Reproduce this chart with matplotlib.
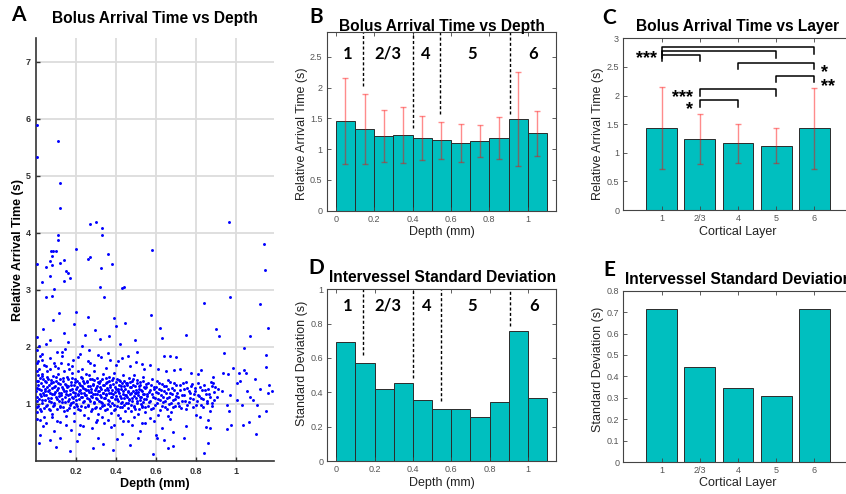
import numpy as np
import matplotlib
matplotlib.use("Agg")
import matplotlib.pyplot as plt

plt.rcParams["font.family"] = ["Liberation Sans", "DejaVu Sans"]

# ---- data ----
# panel A: single vessels, (depth mm, relative arrival time s)
outliers = [
    (0.003, 5.89), (0.11, 5.62), (0.007, 5.34), (0.12, 4.88), (0.12, 4.43), (0.27, 4.16),
    (0.30, 4.20), (0.33, 4.09), (0.33, 3.97), (0.11, 3.96), (0.11, 3.88), (0.20, 3.71),
    (0.58, 3.70), (0.075, 3.68), (0.085, 3.69), (0.10, 3.68), (0.08, 3.59), (0.003, 3.46),
    (0.07, 3.50), (0.05, 3.40), (0.08, 3.43), (0.12, 3.48), (0.14, 3.52), (0.26, 3.55),
    (0.27, 3.58), (0.36, 3.63), (0.38, 3.46), (0.325, 3.38), (0.15, 3.33), (0.16, 3.30),
    (0.17, 3.21), (0.07, 3.24), (0.14, 3.15), (0.03, 3.14), (0.32, 3.06), (0.43, 3.04),
    (0.44, 3.05), (0.09, 3.02), (0.08, 2.90), (0.05, 2.87), (0.34, 2.87), (0.965, 4.19),
    (1.14, 3.81), (1.145, 3.35), (0.97, 2.88), (0.84, 2.77), (1.12, 2.75), (0.575, 2.56),
    (0.62, 2.33), (0.90, 2.32), (1.16, 2.34), (0.75, 2.21), (0.915, 2.19), (1.07, 2.19),
    (0.63, 2.16), (1.04, 1.98), (0.94, 1.89), (1.15, 1.86), (0.70, 1.83), (0.67, 1.85),
    (1.15, 1.65), (0.983, 1.64), (1.015, 1.54), (1.042, 1.60), (1.048, 1.55), (0.937, 1.55),
    (0.958, 1.53), (1.003, 1.37), (1.02, 1.40), (1.097, 1.43), (1.165, 1.33), (1.18, 1.23),
    (1.12, 1.27), (1.16, 1.20), (1.053, 1.23), (1.07, 1.13), (1.087, 1.07), (1.03, 0.98),
    (1.107, 0.98), (1.152, 0.88), (1.115, 0.79), (1.065, 0.68), (1.037, 0.64), (0.965, 0.87),
    (0.975, 0.63), (0.957, 0.57), (1.10, 0.47), (0.86, 0.31), (0.84, 0.14), (0.687, 0.27),
    (0.66, 0.22), (0.587, 0.12), (0.64, 0.37), (0.607, 0.40), (0.97, 1.16), (1.003, 1.07),
    (0.912, 1.27), (0.928, 1.22), (0.887, 1.36), (0.903, 1.13), (0.878, 1.01), (0.87, 0.87),
    (0.82, 0.78), (0.848, 0.60), (0.953, 0.98),
]
cloud = [
    (0.004, 1.95), (0.004, 1.72), (0.005, 1.40), (0.004, 1.12), (0.005, 0.86), (0.003, 2.18),
    (0.006, 1.58), (0.004, 1.28), (0.005, 1.05), (0.004, 0.74), (0.012, 1.33), (0.015, 1.61),
    (0.018, 1.18), (0.011, 0.97), (0.022, 1.45), (0.025, 1.24), (0.019, 1.84), (0.028, 1.07),
    (0.031, 1.52), (0.027, 0.88), (0.035, 1.31), (0.038, 1.69), (0.041, 1.15), (0.036, 0.62),
    (0.044, 1.40), (0.047, 1.22), (0.050, 0.96), (0.053, 1.58), (0.056, 1.29), (0.049, 2.05),
    (0.014, 2.02), (0.021, 0.45), (0.033, 2.31), (0.058, 1.11), (0.009, 1.51), (0.042, 0.78),
    (0.061, 1.43), (0.064, 0.92), (0.016, 0.31), (0.030, 1.77),
    (0.067, 1.25), (0.070, 1.61), (0.073, 1.04), (0.076, 1.37), (0.079, 0.83), (0.082, 1.18),
    (0.085, 1.49), (0.088, 1.30), (0.091, 0.99), (0.094, 1.66), (0.097, 1.21), (0.100, 1.41),
    (0.103, 1.09), (0.106, 0.71), (0.109, 1.28), (0.112, 1.53), (0.115, 1.14), (0.118, 0.95),
    (0.121, 1.35), (0.124, 1.72), (0.127, 1.19), (0.130, 1.03), (0.133, 1.45), (0.136, 1.26),
    (0.139, 0.88), (0.142, 1.58), (0.145, 1.12), (0.148, 1.33), (0.072, 2.12), (0.090, 0.52),
    (0.105, 1.92), (0.120, 0.41), (0.138, 2.25), (0.083, 2.48), (0.150, 0.64), (0.098, 0.25),
    (0.113, 2.60), (0.128, 1.85), (0.068, 0.37), (0.146, 1.97),
    (0.152, 1.22), (0.155, 1.47), (0.158, 1.05), (0.161, 1.31), (0.164, 0.93), (0.167, 1.62),
    (0.170, 1.17), (0.173, 1.39), (0.176, 1.01), (0.179, 1.26), (0.182, 1.54), (0.185, 1.10),
    (0.188, 0.84), (0.191, 1.34), (0.194, 1.20), (0.197, 1.44), (0.200, 1.07), (0.203, 1.29),
    (0.206, 0.97), (0.209, 1.58), (0.212, 1.15), (0.215, 1.36), (0.218, 1.24), (0.221, 0.90),
    (0.224, 1.48), (0.227, 1.12), (0.230, 1.32), (0.233, 1.03), (0.236, 1.41), (0.239, 1.19),
    (0.242, 0.80), (0.245, 1.27), (0.248, 1.52), (0.160, 2.08), (0.175, 0.55), (0.190, 2.40),
    (0.205, 0.35), (0.220, 1.88), (0.235, 0.62), (0.247, 2.21), (0.168, 0.18), (0.183, 1.78),
    (0.198, 2.62), (0.214, 0.47), (0.228, 2.02),
    (0.252, 1.16), (0.255, 1.38), (0.258, 0.99), (0.261, 1.25), (0.264, 1.50), (0.267, 1.08),
    (0.270, 1.31), (0.273, 0.87), (0.276, 1.21), (0.279, 1.44), (0.282, 1.13), (0.285, 1.34),
    (0.288, 1.02), (0.291, 1.57), (0.294, 1.18), (0.297, 0.93), (0.300, 1.28), (0.303, 1.46),
    (0.306, 1.09), (0.309, 1.23), (0.312, 0.82), (0.315, 1.36), (0.318, 1.15), (0.321, 1.41),
    (0.324, 1.04), (0.327, 1.27), (0.330, 0.96), (0.333, 1.52), (0.336, 1.20), (0.339, 1.11),
    (0.342, 1.33), (0.345, 0.89), (0.348, 1.45), (0.265, 1.95), (0.280, 0.58), (0.295, 2.30),
    (0.310, 0.41), (0.325, 1.82), (0.340, 0.67), (0.258, 2.52), (0.287, 0.22), (0.318, 2.14),
    (0.333, 0.30), (0.272, 1.72), (0.305, 0.72),
    (0.352, 1.17), (0.355, 1.39), (0.358, 1.00), (0.361, 1.24), (0.364, 1.48), (0.367, 1.06),
    (0.370, 1.30), (0.373, 0.85), (0.376, 1.19), (0.379, 1.42), (0.382, 1.12), (0.385, 1.35),
    (0.388, 0.98), (0.391, 1.55), (0.394, 1.21), (0.397, 0.91), (0.400, 1.27), (0.403, 1.44),
    (0.406, 1.08), (0.409, 1.22), (0.412, 0.80), (0.415, 1.33), (0.418, 1.14), (0.421, 1.40),
    (0.424, 1.02), (0.427, 1.26), (0.430, 0.94), (0.433, 1.50), (0.436, 1.18), (0.439, 1.10),
    (0.442, 1.31), (0.445, 0.87), (0.448, 1.37), (0.360, 1.90), (0.375, 0.60), (0.390, 2.50),
    (0.405, 0.38), (0.420, 2.05), (0.435, 0.70), (0.398, 2.36), (0.383, 0.20), (0.412, 1.75),
    (0.428, 0.48), (0.446, 2.42), (0.366, 2.20),
    (0.452, 1.16), (0.455, 1.36), (0.458, 1.01), (0.461, 1.23), (0.464, 1.45), (0.467, 1.07),
    (0.470, 1.29), (0.473, 0.88), (0.476, 1.19), (0.479, 1.40), (0.482, 1.11), (0.485, 1.33),
    (0.488, 0.97), (0.491, 1.51), (0.494, 1.20), (0.497, 0.92), (0.500, 1.25), (0.503, 1.42),
    (0.506, 1.05), (0.509, 1.21), (0.512, 0.83), (0.515, 1.31), (0.518, 1.13), (0.521, 1.38),
    (0.524, 1.00), (0.527, 1.24), (0.530, 0.95), (0.533, 1.47), (0.536, 1.17), (0.539, 1.09),
    (0.542, 1.29), (0.545, 0.86), (0.548, 1.35), (0.460, 1.85), (0.478, 0.63), (0.495, 2.12),
    (0.512, 0.40), (0.530, 1.70), (0.547, 0.66), (0.470, 0.28), (0.505, 1.92), (0.522, 0.52),
    (0.553, 1.18), (0.558, 1.37), (0.563, 1.03), (0.568, 1.25), (0.573, 0.92), (0.578, 1.44),
    (0.583, 1.12), (0.588, 1.30), (0.593, 0.99), (0.598, 1.21), (0.603, 1.40), (0.608, 1.08),
    (0.613, 1.27), (0.618, 0.89), (0.623, 1.16), (0.628, 1.35), (0.633, 1.04), (0.638, 1.22),
    (0.643, 0.95), (0.648, 1.31), (0.653, 1.11), (0.658, 1.42), (0.663, 1.00), (0.668, 1.19),
    (0.673, 0.86), (0.678, 1.28), (0.683, 1.07), (0.688, 1.36), (0.693, 0.97), (0.698, 1.14),
    (0.570, 1.68), (0.590, 0.70), (0.610, 1.62), (0.630, 0.58), (0.650, 1.58), (0.672, 0.74),
    (0.692, 1.60), (0.600, 0.45), (0.640, 1.85), (0.685, 0.50),
    (0.705, 1.20), (0.712, 1.02), (0.718, 1.33), (0.725, 0.93), (0.731, 1.15), (0.738, 1.27),
    (0.744, 1.06), (0.751, 1.39), (0.757, 0.98), (0.764, 1.22), (0.770, 1.10), (0.777, 1.31),
    (0.783, 0.95), (0.790, 1.18), (0.796, 1.28), (0.803, 1.05), (0.810, 1.36), (0.816, 1.14),
    (0.823, 0.99), (0.829, 1.24), (0.836, 1.08), (0.842, 1.33), (0.849, 1.17), (0.855, 1.01),
    (0.862, 1.27), (0.868, 1.12), (0.875, 1.38), (0.881, 0.96), (0.888, 1.21), (0.894, 1.30),
    (0.722, 1.62), (0.748, 0.62), (0.773, 1.55), (0.800, 0.80), (0.826, 1.60), (0.858, 0.72),
    (0.884, 1.48), (0.740, 0.40), (0.812, 1.52), (0.870, 0.58),
]
core = [
    (0.002, 1.22), (0.006, 0.95), (0.010, 1.41), (0.013, 1.08), (0.017, 1.27), (0.020, 0.91),
    (0.024, 1.36), (0.026, 1.14), (0.029, 1.49), (0.032, 1.01), (0.034, 1.19), (0.037, 1.44),
    (0.040, 0.93), (0.043, 1.26), (0.045, 1.07), (0.048, 1.38), (0.051, 1.16), (0.054, 0.98),
    (0.057, 1.47), (0.060, 1.23), (0.063, 1.05), (0.066, 1.33), (0.069, 0.89), (0.071, 1.19),
    (0.074, 1.42), (0.077, 1.11), (0.080, 1.28), (0.084, 0.96), (0.087, 1.39), (0.089, 1.17),
    (0.092, 1.02), (0.095, 1.31), (0.099, 1.47), (0.101, 1.13), (0.104, 0.92), (0.107, 1.24),
    (0.110, 1.37), (0.114, 1.06), (0.116, 1.20), (0.119, 1.43), (0.122, 0.97), (0.125, 1.15),
    (0.129, 1.30), (0.131, 1.09), (0.134, 1.40), (0.137, 0.94), (0.140, 1.22), (0.143, 1.35),
    (0.147, 1.04), (0.149, 1.18), (0.153, 1.29), (0.156, 0.90), (0.159, 1.16), (0.162, 1.43),
    (0.165, 1.08), (0.169, 1.25), (0.172, 0.99), (0.174, 1.34), (0.178, 1.12), (0.181, 1.46),
    (0.184, 1.03), (0.187, 1.21), (0.190, 0.95), (0.193, 1.38), (0.196, 1.14), (0.199, 1.27),
    (0.202, 1.00), (0.205, 1.41), (0.208, 1.17), (0.211, 0.92), (0.214, 1.23), (0.217, 1.09),
    (0.220, 1.33), (0.223, 1.19), (0.226, 0.96), (0.229, 1.45), (0.232, 1.13), (0.235, 1.28),
    (0.238, 1.05), (0.241, 1.37), (0.244, 1.16), (0.247, 0.94), (0.250, 1.24), (0.253, 1.40),
    (0.256, 1.10), (0.259, 1.31), (0.262, 0.97), (0.265, 1.21), (0.268, 1.44), (0.271, 1.06),
    (0.274, 1.26), (0.277, 1.14), (0.280, 0.91), (0.283, 1.35), (0.286, 1.18), (0.289, 1.42),
    (0.292, 1.03), (0.295, 1.25), (0.298, 1.11), (0.301, 0.95), (0.304, 1.32), (0.307, 1.17),
    (0.310, 1.39), (0.313, 1.06), (0.316, 1.22), (0.319, 0.93), (0.322, 1.29), (0.325, 1.13),
    (0.328, 1.44), (0.331, 1.01), (0.334, 1.19), (0.337, 1.34), (0.340, 0.98), (0.343, 1.24),
    (0.346, 1.10), (0.349, 1.37), (0.351, 1.15), (0.354, 0.92), (0.357, 1.28), (0.360, 1.07),
    (0.363, 1.41), (0.366, 1.20), (0.369, 0.96), (0.372, 1.33), (0.375, 1.12), (0.378, 1.25),
    (0.381, 1.02), (0.384, 1.46), (0.387, 1.17), (0.390, 0.90), (0.393, 1.30), (0.396, 1.09),
    (0.399, 1.38), (0.402, 1.14), (0.405, 0.97), (0.408, 1.26), (0.411, 1.05), (0.414, 1.42),
    (0.417, 1.20), (0.420, 0.94), (0.423, 1.31), (0.426, 1.11), (0.429, 1.36), (0.432, 1.03),
    (0.435, 1.23), (0.438, 0.99), (0.441, 1.40), (0.444, 1.16), (0.447, 1.27), (0.450, 1.01),
    (0.453, 1.34), (0.456, 1.12), (0.459, 0.93), (0.462, 1.21), (0.465, 1.08), (0.468, 1.39),
    (0.471, 1.17), (0.474, 0.98), (0.477, 1.29), (0.480, 1.06), (0.483, 1.23), (0.486, 1.43),
    (0.489, 1.14), (0.492, 0.95), (0.495, 1.32), (0.498, 1.10), (0.501, 1.19), (0.504, 1.02),
    (0.507, 1.37), (0.510, 1.15), (0.513, 0.91), (0.516, 1.26), (0.519, 1.07), (0.522, 1.33),
    (0.525, 1.12), (0.528, 0.97), (0.531, 1.22), (0.534, 1.04), (0.537, 1.40), (0.540, 1.18),
    (0.543, 0.94), (0.546, 1.28), (0.549, 1.09), (0.552, 1.30), (0.556, 1.14), (0.561, 0.96),
    (0.565, 1.21), (0.570, 1.05), (0.575, 1.34), (0.580, 1.17), (0.585, 0.93), (0.590, 1.26),
    (0.595, 1.10), (0.600, 1.29), (0.605, 1.01), (0.610, 1.19), (0.615, 1.37), (0.620, 1.07),
    (0.625, 1.24), (0.630, 0.97), (0.635, 1.13), (0.640, 1.32), (0.645, 1.05), (0.650, 1.20),
    (0.655, 0.91), (0.660, 1.27), (0.665, 1.12), (0.670, 1.39), (0.675, 1.02), (0.680, 1.17),
    (0.686, 0.95), (0.691, 1.25), (0.696, 1.08), (0.702, 1.33), (0.708, 1.13), (0.715, 0.97),
    (0.721, 1.25), (0.728, 1.06), (0.735, 1.36), (0.742, 1.16), (0.749, 0.91), (0.756, 1.28),
    (0.763, 1.03), (0.771, 1.19), (0.779, 1.35), (0.786, 1.08), (0.794, 1.23), (0.802, 0.98),
    (0.809, 1.16), (0.818, 1.30), (0.827, 1.10), (0.836, 0.94), (0.845, 1.25), (0.854, 1.05),
    (0.866, 1.18), (0.878, 1.32), (0.891, 1.07),
]
halo = [
    (0.01, 1.75), (0.03, 1.88), (0.05, 1.67), (0.07, 1.80), (0.09, 1.72), (0.11, 1.64),
    (0.13, 1.91), (0.16, 1.70), (0.18, 1.66), (0.21, 1.83), (0.23, 1.62), (0.26, 1.76),
    (0.29, 1.68), (0.31, 1.86), (0.35, 1.64), (0.37, 1.77), (0.40, 1.69), (0.43, 1.81),
    (0.47, 1.66), (0.50, 1.74), (0.54, 1.62), (0.02, 0.72), (0.05, 0.66), (0.08, 0.77),
    (0.12, 0.69), (0.15, 0.79), (0.19, 0.71), (0.22, 0.63), (0.26, 0.75), (0.30, 0.68),
    (0.33, 0.78), (0.36, 0.72), (0.39, 0.64), (0.42, 0.76), (0.46, 0.70), (0.49, 0.78),
    (0.53, 0.67), (0.57, 0.76), (0.61, 0.81), (0.66, 0.79),
]

# panels B / D: 0.1 mm depth bins
bin_centers = [0.05, 0.15, 0.25, 0.35, 0.45, 0.55, 0.65, 0.75, 0.85, 0.95, 1.05]
depth_mean = [1.46, 1.33, 1.22, 1.23, 1.18, 1.145, 1.10, 1.13, 1.18, 1.49, 1.26]
depth_sd = [0.695, 0.570, 0.422, 0.454, 0.354, 0.304, 0.304, 0.255, 0.343, 0.760, 0.368]

layer_names = ["1", "2/3", "4", "5", "6"]
layer_bounds = [0.14, 0.40, 0.545, 0.908]
layer_label_x = [0.06, 0.27, 0.47, 0.71, 1.03]
dash_end_B = [2.02, 1.34, 1.58, 1.58]
dash_end_D = [0.62, 0.485, 0.35, 0.785]

# panels C / E: per cortical layer
layer_mean = [1.44, 1.24, 1.165, 1.125, 1.425]
layer_sd = [0.716, 0.443, 0.344, 0.310, 0.713]

# significance brackets (layer a, layer b, height)
brackets = [(1, 5, 2.85), (1, 4, 2.78), (1, 2, 2.715), (3, 5, 2.575),
            (4, 5, 2.35), (2, 4, 2.11), (2, 3, 1.92)]
stars = [("***", 0.87, 2.74, "right"), ("*", 5.18, 2.50, "left"),
         ("**", 5.18, 2.26, "left"), ("***", 1.81, 2.06, "right"),
         ("*", 1.81, 1.85, "right")]

TEAL = "#00bfbf"
EDGE = "#2b2b2b"
ERR = (1.0, 0.0, 0.0, 0.45)
AXC = "#444444"

W, H = 846, 494
fig = plt.figure(figsize=(W / 100, H / 100), dpi=100)


def box(l, t, r, b):
    return [l / W, 1 - b / H, (r - l) / W, (b - t) / H]


def ftext(x, y, s, **kw):
    fig.text(x / W, 1 - y / H, s, ha=kw.pop("ha", "center"), va=kw.pop("va", "center"), **kw)


def style(ax):
    for s in ax.spines.values():
        s.set_color(AXC)
        s.set_linewidth(0.8)
    ax.tick_params(direction="in", length=3, width=0.6, colors=AXC, labelsize=6.5,
                   top=True, right=True, pad=3, labelcolor="#555555")


# ---- A ----
axA = fig.add_axes(box(36, 38, 274, 461))
pts = outliers + cloud + core + halo
axA.scatter([p[0] for p in pts], [p[1] for p in pts], s=4.5, c="#0000ff",
            linewidths=0, zorder=3)
axA.set_xlim(0, 1.19)
axA.set_ylim(0, 7.42)
axA.set_xticks([0.2, 0.4, 0.6, 0.8, 1.0])
axA.set_xticklabels(["0.2", "0.4", "0.6", "0.8", "1"])
axA.set_yticks([1, 2, 3, 4, 5, 6, 7])
axA.grid(True, color="#dcdcdc", linewidth=1.3)
axA.set_axisbelow(True)
for s in ["top", "right"]:
    axA.spines[s].set_visible(False)
for s in ["left", "bottom"]:
    axA.spines[s].set_color("#333333")
    axA.spines[s].set_linewidth(1.2)
axA.tick_params(direction="in", length=3, width=1, colors="#333333", labelsize=6.5, pad=4)
for t in axA.get_xticklabels() + axA.get_yticklabels():
    t.set_fontweight("bold")

# ---- B ----
axB = fig.add_axes(box(326.7, 32.3, 556, 210.7))
axB.bar(bin_centers, depth_mean, width=0.1, color=TEAL, edgecolor=EDGE, linewidth=0.7)
axB.errorbar(bin_centers, depth_mean, yerr=depth_sd, fmt="none", ecolor=ERR,
             elinewidth=1, capsize=2, capthick=1)
axB.set_xlim(-0.047, 1.147)
axB.set_ylim(0, 2.9)
axB.set_xticks([0, 0.2, 0.4, 0.6, 0.8, 1.0])
axB.set_xticklabels(["0", "0.2", "0.4", "0.6", "0.8", "1"])
axB.set_yticks([0, 0.5, 1, 1.5, 2, 2.5])
axB.set_yticklabels(["0", "0.5", "1", "1.5", "2", "2.5"])
axB.vlines(layer_bounds, dash_end_B, 2.9, colors="k", linestyles=(0, (2.2, 1.6)), linewidth=1)
for x, name in zip(layer_label_x, layer_names):
    axB.text(x, 2.55, name, family="Lato", fontweight="bold", fontsize=12,
             ha="center", va="center")
style(axB)

# ---- C ----
pos = np.arange(1, 6)
axC = fig.add_axes(box(623.3, 38.3, 852.7, 210))
axC.bar(pos, layer_mean, width=0.8, color=TEAL, edgecolor=EDGE, linewidth=0.7)
axC.errorbar(pos, layer_mean, yerr=layer_sd, fmt="none", ecolor=ERR,
             elinewidth=1, capsize=2, capthick=1)
for a, b, h in brackets:
    axC.plot([a, a, b, b], [h - 0.116, h, h, h - 0.116], color="k", linewidth=1.1)
for s, x, y, ha in stars:
    axC.text(x, y - 0.1, s, fontsize=13, fontweight="bold", ha=ha, va="center")
axC.set_xlim(0, 6)
axC.set_ylim(0, 3)
axC.set_xticks(pos)
axC.set_xticklabels(layer_names)
axC.set_yticks([0, 0.5, 1, 1.5, 2, 2.5, 3])
axC.set_yticklabels(["0", "0.5", "1", "1.5", "2", "2.5", "3"])
style(axC)

# ---- D ----
axD = fig.add_axes(box(327.3, 289.3, 556, 461))
axD.bar(bin_centers, depth_sd, width=0.1, color=TEAL, edgecolor=EDGE, linewidth=0.7)
axD.set_xlim(-0.047, 1.147)
axD.set_ylim(0, 1)
axD.set_xticks([0, 0.2, 0.4, 0.6, 0.8, 1.0])
axD.set_xticklabels(["0", "0.2", "0.4", "0.6", "0.8", "1"])
axD.set_yticks([0, 0.2, 0.4, 0.6, 0.8, 1])
axD.set_yticklabels(["0", "0.2", "0.4", "0.6", "0.8", "1"])
axD.vlines(layer_bounds, dash_end_D, 1, colors="k", linestyles=(0, (2.2, 1.6)), linewidth=1)
for x, name in zip(layer_label_x, layer_names):
    axD.text(x, 0.905, name, family="Lato", fontweight="bold", fontsize=12,
             ha="center", va="center")
style(axD)

# ---- E ----
axE = fig.add_axes(box(623.3, 290.7, 852.7, 462))
axE.bar(pos, layer_sd, width=0.8, color=TEAL, edgecolor=EDGE, linewidth=0.7)
axE.set_xlim(0, 6)
axE.set_ylim(0, 0.8)
axE.set_xticks(pos)
axE.set_xticklabels(layer_names)
axE.set_yticks(np.arange(0, 0.81, 0.1))
axE.set_yticklabels(["0", "0.1", "0.2", "0.3", "0.4", "0.5", "0.6", "0.7", "0.8"])
style(axE)

# ---- titles, labels, panel letters ----
tkw = dict(fontsize=11.2, fontweight="bold")
ftext(155, 18, "Bolus Arrival Time vs Depth", **tkw)
ftext(441.7, 27, "Bolus Arrival Time vs Depth", **tkw)
ftext(738, 27, "Bolus Arrival Time vs Layer", **tkw)
ftext(442.5, 278, "Intervessel Standard Deviation", **tkw)
ftext(625, 279, "Intervessel Standard Deviation", ha="left", **tkw)

lkw = dict(family="Lato", fontweight="bold", fontsize=15)
ftext(18, 15, "A", **lkw)
ftext(316, 17, "B", **lkw)
ftext(609, 18, "C", **lkw)
ftext(316, 268, "D", **lkw)
ftext(609, 270, "E", **lkw)

ftext(18, 250, "Relative Arrival Time (s)", rotation=90, fontsize=9, fontweight="bold")
ftext(155, 484, "Depth (mm)", fontsize=9, fontweight="bold")
ftext(302, 134, "Relative Arrival Time (s)", rotation=90, fontsize=9, color="#222222")
ftext(441.7, 232, "Depth (mm)", fontsize=9, color="#222222")
ftext(598, 134, "Relative Arrival Time (s)", rotation=90, fontsize=9, color="#222222")
ftext(737.7, 232, "Cortical Layer", fontsize=9, color="#222222")
ftext(302, 363, "Standard Deviation (s)", rotation=90, fontsize=9, color="#222222")
ftext(441.7, 483, "Depth (mm)", fontsize=9, color="#222222")
ftext(598, 369, "Standard Deviation (s)", rotation=90, fontsize=9, color="#222222")
ftext(737.7, 483, "Cortical Layer", fontsize=9, color="#222222")

fig.savefig("out.png", dpi=100)
